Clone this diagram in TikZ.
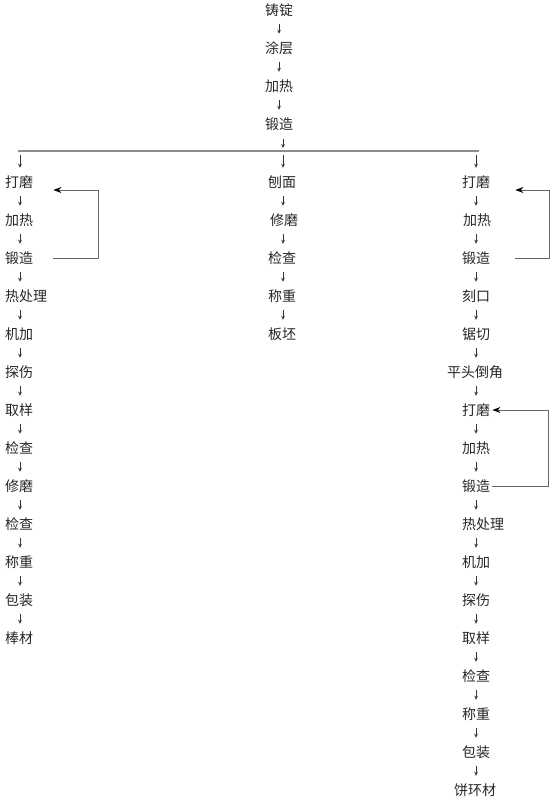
\documentclass[tikz,border=0pt]{standalone}
\usepackage{fontspec}
\newfontfamily\cjk{Noto Sans CJK SC}
\usetikzlibrary{arrows.meta}
\begin{document}
\begin{tikzpicture}[x=1pt,y=-1pt,
  lbl/.style={font=\cjk\fontsize{14pt}{16pt}\selectfont, inner sep=0pt, minimum height=28pt, text=black!85},
  arr/.style={draw=black!80, line width=0.7pt, -{Stealth[length=4pt,width=3.6pt]}},
  fb/.style={draw=black!60, line width=1pt, -{Stealth[length=8pt,width=6pt,color=black]}},
  bar/.style={draw=black!45, line width=1.5pt}]
\useasboundingbox (0,0) rectangle (558,806);
% top column
\node[lbl] (t1) at (279,10) {铸锭};
\node[lbl] (t2) at (279,48) {涂层};
\node[lbl] (t3) at (279,86) {加热};
\node[lbl] (t4) at (279,124) {锻造};
\draw[arr] (t1) -- (t2);
\draw[arr] (t2) -- (t3);
\draw[arr] (t3) -- (t4);
% junction
\coordinate (jl) at (20,151);
\coordinate (jm) at (283,151);
\coordinate (jr) at (476,151);
\draw[bar] ([xshift=-2pt]jl) -- ([xshift=3pt]jr);
\draw[arr] ([yshift=-1pt]t4.south -| jm) -- ([yshift=3pt]jm);
% left column
\node[lbl, anchor=west] (L1) at (5,182) {打磨};
\node[lbl, anchor=west] (L2) at (5,220) {加热};
\node[lbl, anchor=west] (L3) at (5,258) {锻造};
\node[lbl, anchor=west] (L4) at (5,296) {热处理};
\node[lbl, anchor=west] (L5) at (5,334) {机加};
\node[lbl, anchor=west] (L6) at (5,372) {探伤};
\node[lbl, anchor=west] (L7) at (5,410) {取样};
\node[lbl, anchor=west] (L8) at (5,448) {检查};
\node[lbl, anchor=west] (L9) at (5,486) {修磨};
\node[lbl, anchor=west] (L10) at (5,524) {检查};
\node[lbl, anchor=west] (L11) at (5,562) {称重};
\node[lbl, anchor=west] (L12) at (5,600) {包装};
\node[lbl, anchor=west] (L13) at (5,638) {棒材};
\draw[arr] ([yshift=-4pt]jl) -- (L1.north -| jl);
\foreach \a/\b in {L1/L2,L2/L3,L3/L4,L4/L5,L5/L6,L6/L7,L7/L8,L8/L9,L9/L10,L10/L11,L11/L12,L12/L13}
  \draw[arr] (\a.south -| jl) -- (\b.north -| jl);
\draw[fb] ([xshift=20pt]L3.east) -- ++(45,0) |- ([xshift=20pt,yshift=-8pt]L1.east);
% middle column
\node[lbl] (M1) at (282,182) {刨面};
\node[lbl] (M2) at (284,220) {修磨};
\node[lbl] (M3) at (282,258) {检查};
\node[lbl] (M4) at (282,296) {称重};
\node[lbl] (M5) at (282,334) {板坯};
\draw[arr] ([yshift=-4pt]jm) -- (M1.north -| jm);
\foreach \a/\b in {M1/M2,M2/M3,M3/M4,M4/M5}
  \draw[arr] (\a.south -| jm) -- (\b.north -| jm);
% right column
\node[lbl, anchor=west] (R1) at (462,182) {打磨};
\node[lbl, anchor=west] (R2) at (463,220) {加热};
\node[lbl, anchor=west] (R3) at (462,258) {锻造};
\node[lbl, anchor=west] (R4) at (462,296) {刻口};
\node[lbl, anchor=west] (R5) at (462,334) {锯切};
\node[lbl] (R6) at (475,372) {平头倒角};
\node[lbl, anchor=west] (R7) at (462,410) {打磨};
\node[lbl, anchor=west] (R8) at (462,448) {加热};
\node[lbl, anchor=west] (R9) at (462,486) {锻造};
\node[lbl, anchor=west] (R10) at (462,524) {热处理};
\node[lbl, anchor=west] (R11) at (462,562) {机加};
\node[lbl, anchor=west] (R12) at (462,600) {探伤};
\node[lbl, anchor=west] (R13) at (462,638) {取样};
\node[lbl, anchor=west] (R14) at (462,676) {检查};
\node[lbl, anchor=west] (R15) at (462,714) {称重};
\node[lbl, anchor=west] (R16) at (462,752) {包装};
\node[lbl] (R17) at (475,790) {饼环材};
\draw[arr] ([yshift=-4pt]jr) -- (R1.north -| jr);
\foreach \a/\b in {R1/R2,R2/R3,R3/R4,R4/R5,R5/R6,R6/R7,R7/R8,R8/R9,R9/R10,R10/R11,R11/R12,R12/R13,R13/R14,R14/R15,R15/R16,R16/R17}
  \draw[arr] (\a.south -| jr) -- (\b.north -| jr);
\draw[fb] ([xshift=25pt]R3.east) -- ++(34,0) |- ([xshift=25pt,yshift=-8pt]R1.east);
\draw[fb] ([xshift=2pt]R9.east) -- ++(56,0) |- ([xshift=2pt]R7.east);
\end{tikzpicture}
\end{document}
